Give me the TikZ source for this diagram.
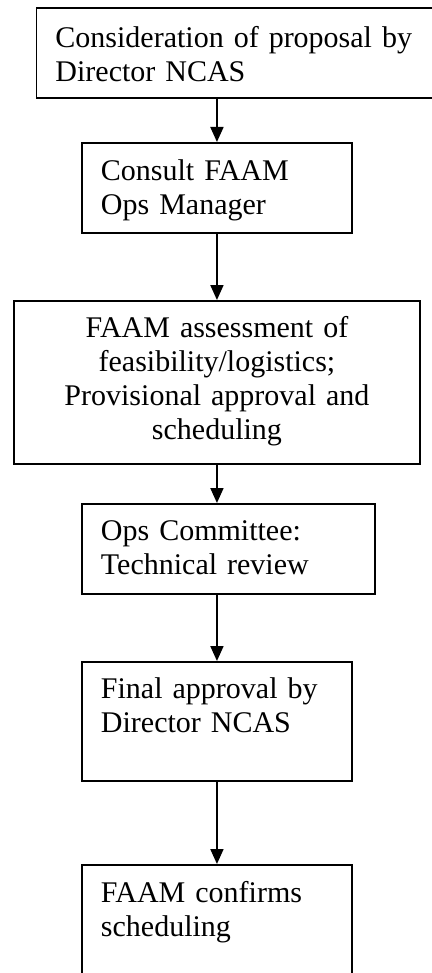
\documentclass[tikz,border=0pt]{standalone}
\usepackage{fontspec}
\setmainfont{Liberation Serif}
\usetikzlibrary{arrows.meta}

\begin{document}
\begin{tikzpicture}[x=1pt,y=-1pt,
    stepbox/.style={draw, line width=1.9pt, anchor=north west, inner xsep=19pt, inner ysep=0pt,
        align=left, font=\fontsize{30}{34}\selectfont},
    flow/.style={line width=1.9pt, -{Triangle[width=13pt,length=15pt]}}]
        \useasboundingbox (0,0) rectangle (431,973);
        \node[stepbox, text width=420pt, text height=40pt, text depth=50pt] (s1) at (35.5,7)
            {Consideration of proposal by\\Director NCAS};
        \node[stepbox, text width=232pt, text height=38pt, text depth=52pt] (s2) at (81,142)
            {Consult FAAM\\Ops Manager};
        \node[stepbox, align=center, text width=368pt, text height=37pt, text depth=126pt] (s3) at (13,300)
            {FAAM assessment of\\feasibility/logistics;\\Provisional approval and\\scheduling};
        \node[stepbox, text width=255pt, text height=37pt, text depth=53pt] (s4) at (81,503)
            {Ops Committee:\\Technical review};
        \node[stepbox, text width=232pt, text height=37pt, text depth=82pt] (s5) at (81,661)
            {Final approval by\\Director NCAS};
        \node[stepbox, text width=232pt, text height=38pt, text depth=92pt] (s6) at (81,864)
            {FAAM confirms\\scheduling};
        \draw[flow] (s1.south -| s2) -- (s2.north);
        \draw[flow] (s2.south) -- (s3.north);
        \draw[flow] (s3.south) -- (s4.north -| s3);
        \draw[flow] (s4.south -| s5) -- (s5.north);
        \draw[flow] (s5.south) -- (s6.north);
    \end{tikzpicture}
\end{document}
